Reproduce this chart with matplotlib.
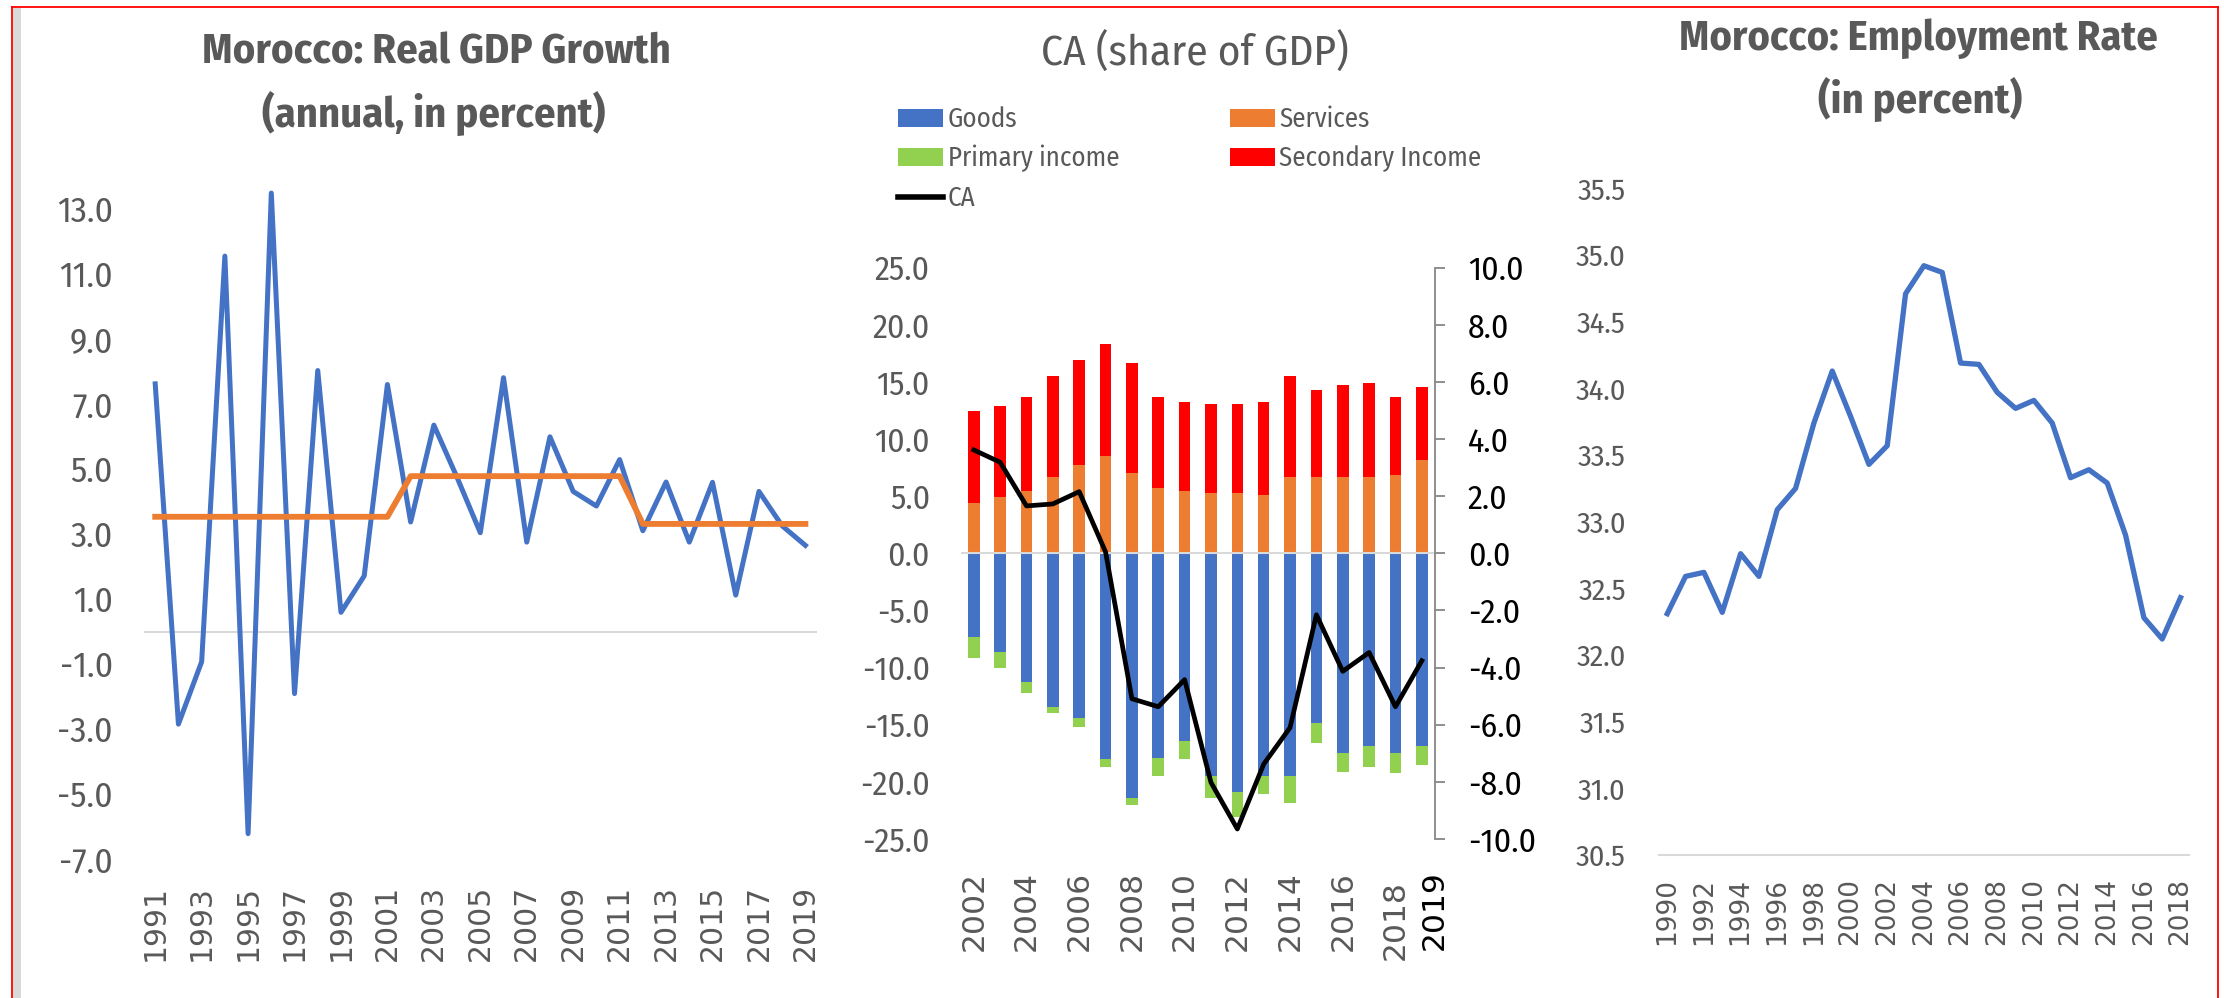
import matplotlib
matplotlib.use('Agg')
import matplotlib.pyplot as plt
from matplotlib import font_manager
from matplotlib.patches import Patch, Rectangle
from matplotlib.lines import Line2D
import matplotlib.transforms as mtransforms

names = {f.name for f in font_manager.fontManager.ttflist}
NARROW = 'Fira Sans Condensed' if 'Fira Sans Condensed' in names else 'Liberation Sans'
ROT = 'DejaVu Sans'

# ---------------- data ----------------
gdp_years = list(range(1991, 2020))
gdp_growth = [7.62, -2.85, -0.93, 11.55, -6.22, 13.49, -1.91, 8.03, 0.59, 1.71,
              7.60, 3.37, 6.35, 4.74, 3.04, 7.81, 2.75, 5.99, 4.31, 3.86,
              5.29, 3.10, 4.60, 2.75, 4.59, 1.12, 4.31, 3.25, 2.65]
gdp_avg = [3.53] * 11 + [4.78] * 10 + [3.31] * 8

ca_years = list(range(2002, 2020))
goods = [-7.36, -8.61, -11.24, -13.43, -14.45, -18.04, -21.45, -17.89, -16.43,
         -19.50, -20.87, -19.50, -19.50, -14.83, -17.51, -16.87, -17.51, -16.87]
primary = [-1.83, -1.40, -0.96, -0.58, -0.73, -0.64, -0.59, -1.61, -1.61,
           -1.95, -2.19, -1.57, -2.39, -1.81, -1.61, -1.81, -1.75, -1.61]
services = [4.44, 4.90, 5.49, 6.65, 7.73, 8.52, 7.06, 5.69, 5.49,
            5.31, 5.31, 5.11, 6.65, 6.65, 6.65, 6.65, 6.83, 8.17]
secondary = [8.02, 7.97, 8.23, 8.88, 9.20, 9.81, 9.64, 8.03, 7.79,
             7.77, 7.77, 8.17, 8.88, 7.65, 8.09, 8.27, 6.89, 6.37]
ca = [3.62, 3.19, 1.66, 1.73, 2.16, 0.05, -5.09, -5.37, -4.42,
      -8.02, -9.65, -7.38, -6.10, -2.15, -4.13, -3.47, -5.37, -3.76]

emp_years = list(range(1990, 2019))
employment = [32.31, 32.59, 32.62, 32.32, 32.76, 32.59, 33.09, 33.25, 33.74, 34.13,
              33.79, 33.43, 33.57, 34.71, 34.92, 34.87, 34.19, 34.18, 33.97, 33.85,
              33.91, 33.74, 33.33, 33.39, 33.29, 32.90, 32.28, 32.12, 32.43]

gdp_yticks = list(range(-7, 14, 2))
gdp_xticks = list(range(1991, 2020, 2))
ca_lticks = list(range(-25, 26, 5))
ca_rticks = list(range(-10, 11, 2))
ca_xticks = list(range(2002, 2019, 2))
emp_yticks = [30.5 + 0.5 * i for i in range(11)]
emp_xticks = list(range(1990, 2019, 2))

# ---------------- style ----------------
BLUE = '#4472C4'
ORANGE = '#ED7D31'
GREEN = '#92D050'
RED = '#FF0000'
GRAY_TXT = '#595959'
GRID = '#D9D9D9'

W, H = 2224, 998
fig = plt.figure(figsize=(W / 100, H / 100), dpi=100)
renderer = fig.canvas.get_renderer()


def fx(px):
    return px / W


def fy(py):
    return 1 - py / H


def rect(x0, y0, x1, y1):
    return [fx(x0), fy(y1), fx(x1) - fx(x0), fy(y0) - fy(y1)]


def fit_size(s, target_px, **kw):
    t = fig.text(0, 0, s, fontsize=40, **kw)
    w = t.get_window_extent(renderer=renderer).width
    t.remove()
    return 40 * target_px / w


# frame
fig.add_artist(Rectangle((fx(13), 0), fx(21) - fx(13), fy(8), transform=fig.transFigure,
                         facecolor='#D9D9D9', edgecolor='none'))
for seg in ([(12, 7), (2218, 7)], [(12, 7), (12, 998)], [(2218, 7), (2218, 998)]):
    fig.add_artist(Line2D([fx(seg[0][0]), fx(seg[1][0])], [fy(seg[0][1]), fy(seg[1][1])],
                          transform=fig.transFigure, color='red', lw=1.3))

tick_l = fit_size('13.0', 56, family=NARROW)
tick_m = fit_size('25.0', 55, family=NARROW)
tick_r = fit_size('35.5', 48, family=NARROW)
title_l = fit_size('Morocco: Real GDP Growth', 468, family=NARROW, fontweight='bold')
title_r = fit_size('Morocco: Employment Rate', 479, family=NARROW, fontweight='bold')
title_m = fit_size('CA (share of GDP)', 308, family=NARROW)
leg_fs = fit_size('Primary income', 172, family=NARROW)

# ---------------- panel 1: GDP growth ----------------
ax1 = fig.add_axes(rect(143.6, 176.5, 817, 859))
ax1.plot(gdp_years, gdp_growth, color=BLUE, lw=3.6, zorder=3)
ax1.plot(gdp_years, gdp_avg, color=ORANGE, lw=4.2, zorder=4)
ax1.axhline(0, color=GRID, lw=1.5, zorder=1)
ax1.set_xlim(1990.5, 2019.5)
ax1.set_ylim(-7, 14)
ax1.set_yticks(gdp_yticks)
ax1.set_yticklabels([f'{v:.1f}' for v in gdp_yticks], fontfamily=NARROW, fontsize=tick_l, color=GRAY_TXT)
ax1.set_xticks(gdp_xticks)
ax1.set_xticklabels([str(v) for v in gdp_xticks], fontfamily=ROT, fontsize=21.5,
                    color=GRAY_TXT, rotation=90)
ax1.tick_params(axis='both', length=0)
ax1.tick_params(axis='y', pad=22)
ax1.tick_params(axis='x', pad=18.5)
for s in ax1.spines.values():
    s.set_visible(False)
fig.text(fx(436), fy(63.6), 'Morocco: Real GDP Growth', ha='center', va='baseline',
         fontfamily=NARROW, fontweight='bold', fontsize=title_l, color=GRAY_TXT)
fig.text(fx(434), fy(127.3), '(annual, in percent)', ha='center', va='baseline',
         fontfamily=NARROW, fontweight='bold', fontsize=title_l, color=GRAY_TXT)

# ---------------- panel 2: current account ----------------
ax2 = fig.add_axes(rect(960.6, 267.7, 1435, 839))
bw = 0.44
ax2.bar(ca_years, goods, bw, color=BLUE, zorder=2)
ax2.bar(ca_years, primary, bw, bottom=goods, color=GREEN, zorder=2)
ax2.bar(ca_years, services, bw, color=ORANGE, zorder=2)
ax2.bar(ca_years, secondary, bw, bottom=services, color=RED, zorder=2)
ax2.axhline(0, color=GRID, lw=1.5, zorder=3)
ax2.set_xlim(2001.5, 2019.5)
ax2.set_ylim(-25, 25)
ax2.set_yticks(ca_lticks)
ax2.set_yticklabels([f'{v:.1f}' for v in ca_lticks], fontfamily=NARROW, fontsize=tick_m, color=GRAY_TXT)
ax2.set_xticks(ca_xticks)
ax2.set_xticklabels([str(v) if v != 2018 else '' for v in ca_xticks], fontfamily=ROT,
                    fontsize=22.6, color=GRAY_TXT, rotation=90)
ax2.tick_params(axis='both', length=0)
ax2.tick_params(axis='y', pad=22)
ax2.tick_params(axis='x', pad=23)
for s in ax2.spines.values():
    s.set_visible(False)
blend2 = mtransforms.blended_transform_factory(ax2.transData, ax2.transAxes)
ax_h = 839 - 267.7
ax2.text(2018, -41 / ax_h, '2018', transform=blend2, rotation=90, ha='center', va='top',
         fontfamily=ROT, fontsize=22.6, color=GRAY_TXT)
ax2.text(2019.47, -31 / ax_h, '2019', transform=blend2, rotation=90, ha='center', va='top',
         fontfamily=ROT, fontsize=22.6, color='black')

ax2b = ax2.twinx()
ax2b.plot(ca_years, ca, color='black', lw=3.4)
ax2b.set_ylim(-10, 10)
ax2b.set_yticks(ca_rticks)
ax2b.set_yticklabels([f'{v:.1f}' for v in ca_rticks], fontfamily=NARROW, fontsize=tick_m, color='black')
for k, s in ax2b.spines.items():
    s.set_visible(k == 'right')
ax2b.spines['right'].set_color('#868686')
ax2b.spines['right'].set_linewidth(1.3)
ax2b.tick_params(axis='y', direction='out', length=7.2, width=1.3, color='#868686', pad=16.5)

fig.text(fx(1195), fy(65), 'CA (share of GDP)', ha='center', va='baseline',
         fontfamily=NARROW, fontsize=title_m, color=GRAY_TXT)

leg_kw = dict(loc='upper left', frameon=False, borderpad=0, borderaxespad=0,
              handlelength=1.66, handleheight=0.66, handletextpad=0.18, labelspacing=0.46,
              prop={'family': NARROW, 'size': leg_fs}, labelcolor=GRAY_TXT)
leg1 = fig.legend([Patch(facecolor=BLUE), Patch(facecolor=GREEN),
                   Line2D([], [], color='black', lw=4)],
                  ['Goods', 'Primary income', 'CA'],
                  bbox_to_anchor=(fx(898.3), fy(106)), **leg_kw)
leg2 = fig.legend([Patch(facecolor=ORANGE), Patch(facecolor=RED)],
                  ['Services', 'Secondary Income'],
                  bbox_to_anchor=(fx(1230), fy(106)), **leg_kw)

# ---------------- panel 3: employment ----------------
ax3 = fig.add_axes(rect(1659.2, 188.4, 2188.6, 855))
ax3.plot(emp_years, employment, color=BLUE, lw=3.8)
ax3.set_xlim(1989.56, 2018.44)
ax3.set_ylim(30.5, 35.5)
ax3.set_yticks(emp_yticks)
ax3.set_yticklabels([f'{v:.1f}' for v in emp_yticks], fontfamily=NARROW, fontsize=tick_r, color=GRAY_TXT)
ax3.set_xticks(emp_xticks)
ax3.set_xticklabels([str(v) for v in emp_xticks], fontfamily=ROT, fontsize=19,
                    color=GRAY_TXT, rotation=90)
ax3.tick_params(axis='both', length=0)
ax3.tick_params(axis='y', pad=24)
ax3.tick_params(axis='x', pad=16.5)
for k, s in ax3.spines.items():
    s.set_visible(k == 'bottom')
ax3.spines['bottom'].set_color(GRID)
ax3.spines['bottom'].set_linewidth(1.5)
fig.text(fx(1918), fy(49.6), 'Morocco: Employment Rate', ha='center', va='baseline',
         fontfamily=NARROW, fontweight='bold', fontsize=title_r, color=GRAY_TXT)
fig.text(fx(1920), fy(112.5), '(in percent)', ha='center', va='baseline',
         fontfamily=NARROW, fontweight='bold', fontsize=title_r, color=GRAY_TXT)

fig.savefig('out.png', dpi=100, facecolor='white')
